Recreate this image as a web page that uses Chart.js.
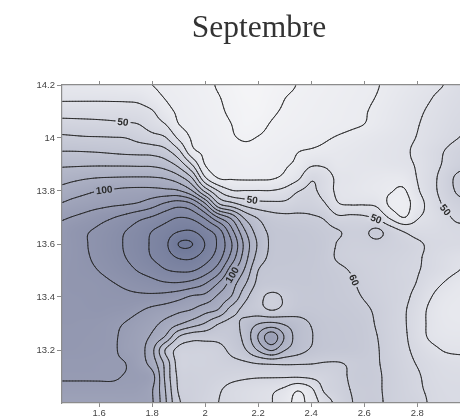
<!DOCTYPE html>
<html>
<head>
<meta charset="utf-8">
<title>Septembre</title>
<script src="https://cdn.jsdelivr.net/npm/chart.js@4.4.1/dist/chart.umd.min.js"></script>
<style>
  html, body { margin: 0; padding: 0; background: #fff; overflow: hidden; }
</style>
</head>
<body>
<canvas id="chart" width="518" height="418"></canvas>
<script>
// Measurement grid, 0.05 apart (x along the bottom axis, y along the left axis)
const gridX = [1.45, 1.5, 1.55, 1.6, 1.65, 1.7, 1.75, 1.8, 1.85, 1.9, 1.95, 2.0, 2.05, 2.1, 2.15, 2.2,
               2.25, 2.3, 2.35, 2.4, 2.45, 2.5, 2.55, 2.6, 2.65, 2.7, 2.75, 2.8, 2.85, 2.9, 2.95, 3.0];
const gridY = [14.2, 14.15, 14.1, 14.05, 14.0, 13.95, 13.9, 13.85, 13.8, 13.75, 13.7, 13.65, 13.6,
               13.55, 13.5, 13.45, 13.4, 13.35, 13.3, 13.25, 13.2, 13.15, 13.1, 13.05, 13.0];

// Field values, one row per y (top to bottom), one entry per x
const row1420 = [35, 34.5, 34, 33.5, 33, 32, 31, 30, 28, 25.8, 24, 22, 19.2, 16.2, 13, 13.4, 15.8, 18.2, 20.3, 21.9, 23.4, 25, 26.5, 28, 29.7, 31.7, 33.7, 35.8, 37.9, 40.1, 43.9, 46];
const row1415 = [38.5, 38.5, 38.5, 38.5, 38.4, 38.2, 37.5, 33.6, 29.7, 27.4, 25.1, 22.8, 20.5, 17.4, 14.2, 13.9, 16.9, 19.9, 21.4, 22.9, 24.4, 25.8, 27.3, 28.8, 30.4, 32.7, 35.1, 37.4, 39.7, 42.5, 45, 46.5];
const row1410 = [46, 46, 45.9, 45.7, 45.4, 45, 44, 40.8, 33.3, 28.6, 26.2, 23.8, 21.4, 18.5, 15.6, 14.8, 18.7, 20.9, 22.4, 23.8, 25.2, 26.6, 28.1, 29.5, 31.5, 33.9, 36.3, 38.7, 41.2, 43.7, 46.3, 47.5];
const row1405 = [54, 53.6, 53.2, 52.8, 52.2, 51.4, 50.2, 45.4, 40.4, 30.3, 27.5, 25, 22.5, 20, 16.2, 17.7, 20.6, 22, 23.4, 24.7, 26.1, 27.4, 28.8, 30.1, 32.4, 34.8, 37.2, 39.6, 42.3, 45, 47.8, 49];
const row1400 = [62.2, 61.6, 61, 60.8, 60.5, 60, 57, 54, 50.8, 38.4, 29, 26.4, 23.7, 21, 19.1, 20.4, 22.1, 23.9, 25.6, 27.3, 29, 30.7, 32.2, 33.8, 35.4, 37, 38.6, 40.3, 43.4, 46.5, 49.7, 52];
const row1395 = [70, 70, 69.7, 69.2, 68.4, 67.6, 67, 66.3, 62.8, 52.1, 33, 28.4, 26.4, 24.4, 22.5, 23, 25, 27, 29.7, 31, 32.2, 33.4, 34.5, 35.7, 36.9, 38, 39.2, 41.3, 45.6, 49.9, 54, 56];
const row1390 = [78.3, 78.5, 78.7, 78.8, 78.7, 78.6, 78.3, 78, 75, 66.7, 50, 29.7, 28.3, 26.8, 25.3, 25.5, 27, 29, 32, 38.5, 38.5, 35, 35.5, 36, 36.5, 37.5, 38.5, 40.8, 45.6, 51, 56, 59];
const row1385 = [86, 87.5, 89, 90, 90.4, 90.7, 90.8, 90.6, 89, 83.4, 70, 41, 29.5, 29, 28.5, 28.5, 29, 32.1, 38, 48.5, 45, 38, 36.5, 35, 34, 33, 34, 40.3, 46.5, 53.8, 61.7, 64];
const row1380 = [93, 95.5, 98, 100.2, 101.3, 102.5, 103, 103.2, 102.6, 101, 91, 67.6, 50, 41, 40.5, 40.5, 40.5, 43, 49.5, 52, 46, 38, 36, 34.5, 33, 30.5, 29, 38.5, 46.4, 53.5, 61, 63.5];
const row1375 = [100.6, 103.3, 105.3, 106.9, 108.5, 109.6, 111.5, 116, 122, 126, 121, 102, 72, 64, 57, 53.5, 52.6, 52.5, 55.5, 55.5, 51, 41, 39.5, 39.5, 38, 28, 26.5, 35, 44, 51, 56, 58];
const row1370 = [108.5, 110.5, 113, 116.5, 119.5, 123, 127.5, 131, 136, 140, 138, 128, 110, 97, 78, 69, 64, 62.5, 62, 61.2, 59, 52, 52.5, 51.5, 48, 38, 30, 39, 43, 47.5, 51.5, 52];
const row1365 = [112, 116, 119, 121.8, 125.4, 129.9, 134.2, 139.9, 143.9, 149.2, 150, 143, 133.8, 112.6, 90.5, 75, 68, 66.5, 66, 65, 63, 60.5, 58, 58.5, 61.5, 55, 49, 46, 46, 47, 48, 48];
const row1360 = [113, 116, 119.5, 122.8, 126.6, 131, 135.8, 141.4, 147.8, 160.3, 160.3, 149.6, 138, 120.4, 97, 78.5, 68.5, 67, 66.5, 66, 64, 59.5, 57.5, 57.5, 58, 56, 54, 51.5, 48.5, 47.5, 47, 47];
const row1355 = [114, 116, 119, 122.2, 125.7, 130, 134.5, 140.4, 145.1, 150.9, 151.2, 144.7, 134.3, 116, 94.5, 76, 68, 67, 66.5, 66, 63.5, 59, 57, 56, 55.5, 54.5, 53, 51, 48, 45, 42.5, 41];
const row1350 = [114.5, 116.5, 118, 120.2, 123.2, 126.7, 130.7, 134.4, 139.2, 141.2, 140.8, 134.6, 124, 104, 88.5, 70, 66.5, 66, 66, 65.5, 64, 62, 59.5, 57, 55.5, 54, 52, 50.5, 47.5, 44, 40.5, 38];
const row1345 = [115, 116.5, 116.5, 117.5, 119.5, 121.6, 124, 126.4, 128.5, 128.7, 126, 120, 109, 95, 81, 67.5, 65, 65, 65.5, 65.5, 64.5, 63, 61, 58, 56, 54, 52.5, 49.5, 44, 39.5, 35.5, 34];
const row1340 = [115, 115.5, 116, 117, 117.5, 118, 118, 117.5, 116, 113, 108.5, 106.5, 97.7, 89, 73, 63, 58, 61, 64.5, 65, 64.5, 63.5, 62, 59.5, 57, 54.5, 52, 47, 40.5, 35.5, 33.5, 33];
const row1335 = [115, 115, 115.5, 116, 115, 114, 111, 107.5, 105, 102, 99.3, 93.5, 89, 75, 67, 64, 60, 63, 66, 66, 65, 64.5, 63.5, 61.5, 58.5, 55, 51, 45, 38, 34, 33, 33];
const row1330 = [114.5, 114.5, 114, 113.5, 112, 109.5, 106, 102.5, 97.4, 91.5, 85.3, 79.3, 70.5, 67, 73, 79.5, 82, 78.5, 74, 69.5, 66.5, 65.5, 64.5, 63, 59, 55, 51, 44.5, 38, 34.5, 33.5, 33.5];
const row1325 = [114, 114, 113.5, 113, 111.5, 107.5, 104, 98.5, 89, 70, 64, 63.5, 63, 65.5, 73, 90.5, 106, 89, 75.5, 70.5, 67, 66, 65, 63.5, 60, 55.5, 51.5, 45, 38.5, 36, 35.5, 35.5];
const row1320 = [113.5, 113.5, 113, 112.5, 111.5, 107, 104, 92.5, 69.5, 57, 55.5, 55.5, 57, 62.5, 69, 81, 91, 80.5, 74, 69, 66.5, 65.5, 65, 63.5, 60.5, 56, 52, 47.5, 43, 39.5, 38.5, 38.5];
const row1315 = [112, 112, 112, 111.5, 111, 110, 105, 95.4, 77, 56, 54.5, 54.5, 55.5, 57, 58.5, 60.5, 61.5, 61.5, 61, 60.5, 59.5, 59.5, 61, 62, 60.5, 57, 53, 49.5, 46.5, 44, 43, 43];
const row1310 = [111, 111, 111, 111, 111, 109.5, 108.5, 103.5, 78, 58, 56, 55, 54, 52.5, 51.5, 51, 51, 51, 51, 52, 54, 57, 61, 62.5, 61, 57.5, 54, 51, 47.5, 45.5, 45, 45];
const row1305 = [107.5, 107.5, 107.5, 107.5, 107.5, 107.3, 106.5, 100.7, 80, 59, 56.5, 54.5, 51, 47.5, 45.5, 43.5, 41.5, 38, 31, 38, 51.5, 56, 60.2, 61.5, 61, 57.5, 54.5, 51.5, 48.5, 46.5, 46, 46];
const row1300 = [104, 104, 104, 104, 104, 104, 103.5, 101, 81.5, 61.5, 57, 53.5, 50, 47.5, 45, 42.5, 40.3, 34, 27.5, 34, 44.5, 53, 59.5, 61.5, 61.5, 57.5, 55, 53.3, 49, 47, 46.5, 46.5];

const fieldRows = [row1420, row1415, row1410, row1405, row1400, row1395, row1390, row1385, row1380,
                   row1375, row1370, row1365, row1360, row1355, row1350, row1345, row1340, row1335,
                   row1330, row1325, row1320, row1315, row1310, row1305, row1300];

const contourLevels = [10, 20, 30, 40, 50, 60, 70, 80, 90, 100, 110, 120, 130, 140, 150, 160, 170];
const xTicks = [1.6, 1.8, 2, 2.2, 2.4, 2.6, 2.8];
const yTicks = [13.2, 13.4, 13.6, 13.8, 14, 14.2];

// Inline labels: which level, and roughly where along it
const labelLevels = [50, 100, 50, 100, 50, 50, 60];
const labelX = [1.690, 1.634, 2.177, 2.102, 2.652, 2.898, 2.554];
const labelY = [14.060, 13.815, 13.762, 13.483, 13.698, 13.721, 13.460];

// light grey to slate blue
const colorStops = [
  [10, [246, 246, 248]],
  [30, [234, 235, 240]],
  [50, [213, 215, 225]],
  [80, [181, 185, 202]],
  [115, [146, 151, 176]],
  [170, [104, 114, 148]],
];

function colorFor(v) {
  if (v <= colorStops[0][0]) return colorStops[0][1];
  for (let k = 1; k < colorStops.length; k++) {
    const [v1, c1] = colorStops[k];
    if (v <= v1) {
      const [v0, c0] = colorStops[k - 1];
      const t = (v - v0) / (v1 - v0);
      return [0, 1, 2].map(n => c0[n] + (c1[n] - c0[n]) * t);
    }
  }
  return colorStops[colorStops.length - 1][1];
}

// Catmull-Rom between grid nodes
function cubic(p0, p1, p2, p3, t) {
  return p1 + 0.5 * t * (p2 - p0 + t * (2 * p0 - 5 * p1 + 4 * p2 - p3 + t * (3 * (p1 - p2) + p3 - p0)));
}

function fieldAt(x, y) {
  const fx = (x - gridX[0]) / (gridX[1] - gridX[0]);
  const fy = (gridY[0] - y) / (gridY[0] - gridY[1]);
  const ix = Math.floor(fx), iy = Math.floor(fy);
  const tx = fx - ix, ty = fy - iy;
  const nr = fieldRows.length, nc = gridX.length;
  const at = (r, c) => fieldRows[Math.min(nr - 1, Math.max(0, r))][Math.min(nc - 1, Math.max(0, c))];
  const col = [];
  for (let k = -1; k <= 2; k++) {
    col.push(cubic(at(iy + k, ix - 1), at(iy + k, ix), at(iy + k, ix + 1), at(iy + k, ix + 2), tx));
  }
  return cubic(col[0], col[1], col[2], col[3], ty);
}

function paintField(ctx, area, xs, ys) {
  const left = Math.round(area.left), top = Math.round(area.top);
  const w = Math.round(area.right) - left, h = Math.round(area.bottom) - top;
  const img = ctx.createImageData(w, h);
  const xv = [];
  for (let i = 0; i < w; i++) xv.push(xs.getValueForPixel(left + i + 0.5));
  for (let j = 0; j < h; j++) {
    const yv = ys.getValueForPixel(top + j + 0.5);
    for (let i = 0; i < w; i++) {
      const c = colorFor(fieldAt(xv[i], yv));
      const o = (j * w + i) * 4;
      img.data[o] = c[0];
      img.data[o + 1] = c[1];
      img.data[o + 2] = c[2];
      img.data[o + 3] = 255;
    }
  }
  ctx.putImageData(img, left, top);
}

function drawContours(ctx, area, xs, ys) {
  const step = 1.5;
  const nx = Math.floor((area.right - area.left) / step) + 2;
  const ny = Math.floor((area.bottom - area.top) / step) + 2;
  const px = i => area.left + i * step;
  const py = j => area.top + j * step;
  const v = [];
  for (let j = 0; j < ny; j++) {
    const yv = ys.getValueForPixel(py(j));
    const row = new Float64Array(nx);
    for (let i = 0; i < nx; i++) row[i] = fieldAt(xs.getValueForPixel(px(i)), yv);
    v.push(row);
  }

  ctx.save();
  ctx.beginPath();
  ctx.rect(area.left, area.top, area.right - area.left, area.bottom - area.top);
  ctx.clip();
  ctx.lineWidth = 0.85;
  ctx.strokeStyle = '#222';
  ctx.lineCap = 'round';

  for (const level of contourLevels) {
    ctx.beginPath();
    for (let j = 0; j < ny - 1; j++) {
      for (let i = 0; i < nx - 1; i++) {
        const a = v[j][i], b = v[j][i + 1], c = v[j + 1][i + 1], d = v[j + 1][i];
        const code = (a > level ? 8 : 0) | (b > level ? 4 : 0) | (c > level ? 2 : 0) | (d > level ? 1 : 0);
        if (code === 0 || code === 15) continue;
        const x0 = px(i), y0 = py(j);
        const T = () => [x0 + step * (level - a) / (b - a), y0];
        const R = () => [x0 + step, y0 + step * (level - b) / (c - b)];
        const B = () => [x0 + step * (level - d) / (c - d), y0 + step];
        const L = () => [x0, y0 + step * (level - a) / (d - a)];
        const seg = (p, q) => { ctx.moveTo(p[0], p[1]); ctx.lineTo(q[0], q[1]); };
        const mid = (a + b + c + d) / 4;
        switch (code) {
          case 1: case 14: seg(L(), B()); break;
          case 2: case 13: seg(B(), R()); break;
          case 3: case 12: seg(L(), R()); break;
          case 4: case 11: seg(T(), R()); break;
          case 6: case 9: seg(T(), B()); break;
          case 7: case 8: seg(L(), T()); break;
          case 5:
            if (mid > level) { seg(L(), T()); seg(B(), R()); } else { seg(L(), B()); seg(T(), R()); }
            break;
          case 10:
            if (mid > level) { seg(T(), R()); seg(L(), B()); } else { seg(L(), T()); seg(B(), R()); }
            break;
        }
      }
    }
    ctx.stroke();
  }
  ctx.restore();
}

// Put each label on its level line near the given spot, turned along the line
function drawLabels(ctx, area, xs, ys) {
  ctx.save();
  ctx.font = 'bold 10px "Liberation Sans", Arial, sans-serif';
  ctx.textAlign = 'center';
  ctx.textBaseline = 'middle';
  labelLevels.forEach((level, k) => {
    const cx = xs.getPixelForValue(labelX[k]);
    const cy = ys.getPixelForValue(labelY[k]);
    const f = (x, y) => fieldAt(xs.getValueForPixel(x), ys.getValueForPixel(y));
    let best = [cx, cy], bestScore = Infinity;
    for (let dy = -12; dy <= 12; dy++) {
      for (let dx = -12; dx <= 12; dx++) {
        const s = Math.abs(f(cx + dx, cy + dy) - level) * 4 + Math.hypot(dx, dy) * 0.3;
        if (s < bestScore) { bestScore = s; best = [cx + dx, cy + dy]; }
      }
    }
    const [x, y] = best;
    const gx = f(x + 1, y) - f(x - 1, y);
    const gy = f(x, y + 1) - f(x, y - 1);
    let ang = Math.atan2(gx, -gy);
    if (ang > Math.PI / 2) ang -= Math.PI;
    if (ang < -Math.PI / 2) ang += Math.PI;
    const text = String(level);
    const tw = ctx.measureText(text).width;
    const c = colorFor(level);
    ctx.save();
    ctx.translate(x, y);
    ctx.rotate(ang);
    ctx.fillStyle = `rgb(${c.map(Math.round).join(',')})`;
    ctx.fillRect(-tw / 2 - 2, -4.5, tw + 4, 9);
    ctx.fillStyle = '#2a2a2a';
    ctx.fillText(text, 0, 0.5);
    ctx.restore();
  });
  ctx.restore();
}

const contourPlugin = {
  id: 'contourPlot',
  beforeDraw(chart) {
    const { ctx, chartArea, scales } = chart;
    paintField(ctx, chartArea, scales.x, scales.y);
    drawContours(ctx, chartArea, scales.x, scales.y);
    drawLabels(ctx, chartArea, scales.x, scales.y);
  },
};

const axisColor = '#8c8c8c';
const tickFont = { family: '"Liberation Sans", Arial, sans-serif', size: 9.5 };
const fmt = v => String(Number(v.toFixed(2)));

new Chart(document.getElementById('chart'), {
  type: 'scatter',
  data: { datasets: [{ data: [] }] },
  options: {
    responsive: false,
    devicePixelRatio: 1,
    animation: false,
    layout: { padding: 0 },
    plugins: {
      legend: { display: false },
      tooltip: { enabled: false },
      title: {
        display: true,
        text: 'Septembre',
        color: '#333',
        font: { family: '"Liberation Serif", "Times New Roman", serif', size: 31.5, weight: 'normal', lineHeight: 1.2 },
        padding: { top: 9.5, bottom: 31.7 },
      },
    },
    scales: {
      x: {
        type: 'linear',
        position: 'bottom',
        min: 1.46,
        max: 3.18,
        afterBuildTicks: s => { s.ticks = xTicks.map(v => ({ value: v })); },
        afterFit: s => { s.height = 15; },
        grid: { drawOnChartArea: false, tickLength: 4, color: axisColor },
        border: { color: axisColor, width: 1.2 },
        ticks: { font: tickFont, color: '#444', padding: 1, maxRotation: 0, callback: fmt },
      },
      x2: {
        type: 'linear',
        position: 'top',
        min: 1.46,
        max: 3.18,
        afterBuildTicks: s => { s.ticks = xTicks.map(v => ({ value: v })); },
        afterFit: s => { s.height = 6; },
        grid: { drawOnChartArea: false, tickLength: 4, color: axisColor },
        border: { color: axisColor, width: 1.2 },
        ticks: { display: false },
      },
      y: {
        type: 'linear',
        min: 13.0,
        max: 14.2,
        afterBuildTicks: s => { s.ticks = yTicks.map(v => ({ value: v })); },
        afterFit: s => { s.width = 62; },
        grid: { drawOnChartArea: false, tickLength: 5, color: axisColor },
        border: { color: axisColor, width: 1.2 },
        ticks: { font: tickFont, color: '#444', padding: 2, callback: fmt },
      },
    },
  },
  plugins: [contourPlugin],
});
</script>
</body>
</html>
